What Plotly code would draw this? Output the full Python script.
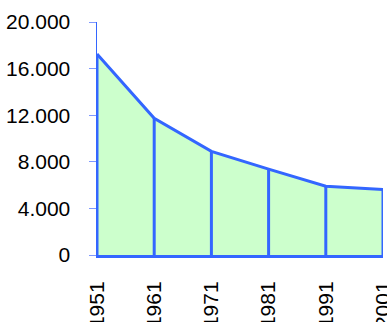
import plotly.graph_objects as go

years = [1951, 1961, 1971, 1981, 1991, 2001]
values = [17250, 11730, 8900, 7370, 5910, 5630]
y_tickvals = [0, 4000, 8000, 12000, 16000, 20000]
y_ticktext = ["0", "4.000", "8.000", "12.000", "16.000", "20.000"]
x_ticktext = [str(y) for y in years]

BLUE = "#3366FF"
FILL = "#CCFFCC"

drop_x, drop_y = [], []
for xv, yv in zip(years, values):
    drop_x += [xv, xv, None]
    drop_y += [0, yv, None]

fig = go.Figure()
fig.add_trace(go.Scatter(
    x=years, y=values, mode="lines", fill="tozeroy", fillcolor=FILL,
    line=dict(color=BLUE, width=3), cliponaxis=False, hoverinfo="skip",
))
fig.add_trace(go.Scatter(
    x=drop_x, y=drop_y, mode="lines", line=dict(color=BLUE, width=3),
    cliponaxis=False, hoverinfo="skip",
))

font = dict(family="Liberation Sans, Arial, sans-serif", size=21, color="#000000")
fig.update_layout(
    width=387, height=322,
    margin=dict(l=97, r=4, t=22, b=67),
    paper_bgcolor="white", plot_bgcolor="white",
    showlegend=False, font=font,
    xaxis=dict(
        range=[years[0], years[-1]], tickvals=years, ticktext=x_ticktext,
        tickangle=-90, showgrid=False, zeroline=False, automargin=False,
        showline=True, linecolor=BLUE, linewidth=3,
        ticks="", ticklabelstandoff=15, tickfont=font,
        ticklabeloverflow="allow",
    ),
    yaxis=dict(
        range=[0, 20000], tickvals=y_tickvals, ticktext=y_ticktext,
        showgrid=False, zeroline=False, automargin=False,
        showline=True, linecolor=BLUE, linewidth=1.5,
        ticks="outside", ticklen=7, tickcolor="#7F99FF", tickwidth=1,
        ticklabelstandoff=14, tickfont=font, ticklabeloverflow="allow",
    ),
)
fig.write_html(
    "out.html",
    config={"displayModeBar": False, "staticPlot": True},
    post_script="document.body.style.margin='0';document.body.style.overflow='hidden';",
)
